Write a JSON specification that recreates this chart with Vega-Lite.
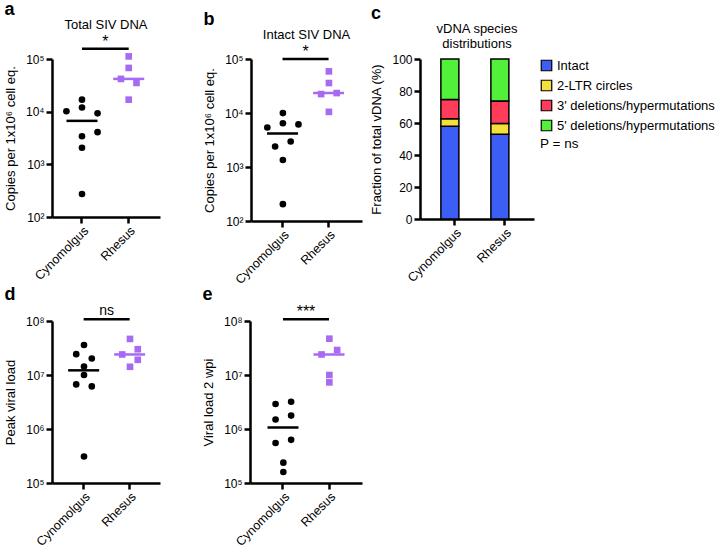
{
  "$schema": "https://vega.github.io/schema/vega-lite/v6.json",
  "padding": {"left": 4, "top": 0, "right": 0, "bottom": 0},
  "background": "white",
  "resolve": {"scale": {"color": "independent", "shape": "independent"}},
  "config": {
    "font": "Liberation Sans",
    "view": {"stroke": null},
    "axis": {"domainColor": "#000", "domainWidth": 2.5, "tickColor": "#000", "tickWidth": 2.5, "tickSize": 6, "labelColor": "#000", "labelFontSize": 12, "titleFontSize": 13, "titleFontWeight": "normal", "titleColor": "#000", "grid": false, "labelPadding": 2, "titlePadding": 8},
    "axisX": {"labelFontSize": 12.5, "labelAngle": -45, "labelPadding": 1},
    "title": {"fontSize": 13, "fontWeight": "normal", "color": "#000", "offset": 2},
    "legend": {"labelFontSize": 13, "labelColor": "#000", "titleFontSize": 13, "titleFontWeight": "normal", "titleColor": "#000"}
  },
  "datasets": {
    "a": [
      {"group": "Cynomolgus", "slot": 0, "value": 16900},
      {"group": "Cynomolgus", "slot": -2, "value": 10200},
      {"group": "Cynomolgus", "slot": 0, "value": 12000},
      {"group": "Cynomolgus", "slot": 2, "value": 9300},
      {"group": "Cynomolgus", "slot": 0, "value": 3420},
      {"group": "Cynomolgus", "slot": 2, "value": 4080},
      {"group": "Cynomolgus", "slot": 0, "value": 2060},
      {"group": "Cynomolgus", "slot": 0, "value": 273},
      {"group": "Rhesus", "slot": 0, "value": 112000},
      {"group": "Rhesus", "slot": 0, "value": 67700},
      {"group": "Rhesus", "slot": -1, "value": 41900},
      {"group": "Rhesus", "slot": 1, "value": 35100},
      {"group": "Rhesus", "slot": 0, "value": 16900}
    ],
    "b": [
      {"group": "Cynomolgus", "slot": 0, "value": 9950},
      {"group": "Cynomolgus", "slot": -2, "value": 5400},
      {"group": "Cynomolgus", "slot": 0, "value": 6460},
      {"group": "Cynomolgus", "slot": 2, "value": 6150},
      {"group": "Cynomolgus", "slot": -1, "value": 2400},
      {"group": "Cynomolgus", "slot": 1, "value": 2960},
      {"group": "Cynomolgus", "slot": 0, "value": 1350},
      {"group": "Cynomolgus", "slot": 0, "value": 205},
      {"group": "Rhesus", "slot": 0, "value": 59000},
      {"group": "Rhesus", "slot": 0, "value": 35900},
      {"group": "Rhesus", "slot": -1, "value": 22400},
      {"group": "Rhesus", "slot": 1, "value": 23400},
      {"group": "Rhesus", "slot": 0, "value": 10500}
    ],
    "d": [
      {"group": "Cynomolgus", "slot": 0, "value": 36000000},
      {"group": "Cynomolgus", "slot": -1, "value": 24300000},
      {"group": "Cynomolgus", "slot": 1, "value": 20200000},
      {"group": "Cynomolgus", "slot": 0, "value": 14400000},
      {"group": "Cynomolgus", "slot": 0, "value": 10000000},
      {"group": "Cynomolgus", "slot": -1, "value": 6700000},
      {"group": "Cynomolgus", "slot": 1, "value": 6150000},
      {"group": "Cynomolgus", "slot": 0, "value": 310000},
      {"group": "Rhesus", "slot": 0, "value": 46600000},
      {"group": "Rhesus", "slot": -1, "value": 24000000},
      {"group": "Rhesus", "slot": 1, "value": 30000000},
      {"group": "Rhesus", "slot": 1, "value": 19100000},
      {"group": "Rhesus", "slot": 0, "value": 14200000}
    ],
    "e": [
      {"group": "Cynomolgus", "slot": -1, "value": 2900000},
      {"group": "Cynomolgus", "slot": 1, "value": 3200000},
      {"group": "Cynomolgus", "slot": -1, "value": 1500000},
      {"group": "Cynomolgus", "slot": 1, "value": 1770000},
      {"group": "Cynomolgus", "slot": -1, "value": 550000},
      {"group": "Cynomolgus", "slot": 1, "value": 630000},
      {"group": "Cynomolgus", "slot": 0, "value": 238000},
      {"group": "Cynomolgus", "slot": 0, "value": 160000},
      {"group": "Rhesus", "slot": 0, "value": 47000000},
      {"group": "Rhesus", "slot": -1, "value": 24000000},
      {"group": "Rhesus", "slot": 1, "value": 29000000},
      {"group": "Rhesus", "slot": 0, "value": 10000000},
      {"group": "Rhesus", "slot": 0, "value": 7300000}
    ],
    "c": [
      {"group": "Cynomolgus", "species": "Intact", "k": 1, "pct": 58.0},
      {"group": "Cynomolgus", "species": "2-LTR circles", "k": 2, "pct": 4.6},
      {"group": "Cynomolgus", "species": "3' deletions/hypermutations", "k": 3, "pct": 12.1},
      {"group": "Cynomolgus", "species": "5' deletions/hypermutations", "k": 4, "pct": 25.3},
      {"group": "Rhesus", "species": "Intact", "k": 1, "pct": 53.0},
      {"group": "Rhesus", "species": "2-LTR circles", "k": 2, "pct": 6.7},
      {"group": "Rhesus", "species": "3' deletions/hypermutations", "k": 3, "pct": 14.1},
      {"group": "Rhesus", "species": "5' deletions/hypermutations", "k": 4, "pct": 26.2}
    ],
    "sig": [
      {"panel": "a", "group": "Cynomolgus", "level": 156700, "label": "*"},
      {"panel": "a", "group": "Rhesus", "level": 156700, "label": "*"},
      {"panel": "b", "group": "Cynomolgus", "level": 100000, "label": "*"},
      {"panel": "b", "group": "Rhesus", "level": 100000, "label": "*"},
      {"panel": "d", "group": "Cynomolgus", "level": 108000000, "label": "ns"},
      {"panel": "d", "group": "Rhesus", "level": 108000000, "label": "ns"},
      {"panel": "e", "group": "Cynomolgus", "level": 108000000, "label": "***"},
      {"panel": "e", "group": "Rhesus", "level": 108000000, "label": "***"}
    ]
  },
  "vconcat": [
    {
      "resolve": {"scale": {"color": "independent", "shape": "independent"}},
      "hconcat": [
        {
          "resolve": {"scale": {"color": "independent", "shape": "independent"}},
          "hconcat": [
            {
              "title": {"text": "a", "anchor": "start", "fontSize": 18, "fontWeight": "bold", "frame": "bounds", "offset": 0},
              "vconcat": [
                {
                  "width": 108, "height": 158,
                  "title": {"text": "Total SIV DNA"},
                  "data": {"name": "a"},
                  "encoding": {
                    "x": {"field": "group", "type": "nominal", "scale": {"domain": ["Cynomolgus", "Rhesus"], "paddingInner": 0, "paddingOuter": 0.156, "align": 0.455}, "axis": {"title": null}},
                    "y": {"field": "value", "type": "quantitative", "scale": {"type": "log", "domain": [100, 100000]}, "axis": {"title": "Copies per 1x10⁶ cell eq.", "values": [100, 1000, 10000, 100000], "labelExpr": "'10' + (datum.value >= 1e8 ? '⁸' : datum.value >= 1e7 ? '⁷' : datum.value >= 1e6 ? '⁶' : datum.value >= 1e5 ? '⁵' : datum.value >= 1e4 ? '⁴' : datum.value >= 1e3 ? '³' : '²')"}},
                    "color": {"field": "group", "type": "nominal", "scale": {"domain": ["Cynomolgus", "Rhesus"], "range": ["#000000", "#a66bf2"]}, "legend": null}
                  },
                  "layer": [
                    {"mark": {"type": "point", "filled": true, "opacity": 1, "size": 44},
                     "encoding": {"xOffset": {"field": "slot", "type": "ordinal", "scale": {"domain": [-3, -2, -1, 0, 1, 2, 3], "paddingInner": 0, "paddingOuter": 0}},
                                  "shape": {"field": "group", "type": "nominal", "scale": {"domain": ["Cynomolgus", "Rhesus"], "range": ["circle", "square"]}, "legend": null}}},
                    {"transform": [{"aggregate": [{"op": "median", "field": "value", "as": "value"}], "groupby": ["group"]}],
                     "mark": {"type": "tick", "thickness": 2.5, "size": 31, "orient": "horizontal", "opacity": 1}},
                    {"data": {"name": "sig"}, "transform": [{"filter": "datum.panel == 'a'"}],
                     "mark": {"type": "line", "strokeWidth": 2.5, "strokeCap": "butt"},
                     "encoding": {"y": {"field": "level", "type": "quantitative"}, "color": {"value": "#000000"}}},
                    {"data": {"name": "sig"}, "transform": [{"filter": "datum.panel == 'a' && datum.group == 'Cynomolgus'"}],
                     "mark": {"type": "text", "fontSize": 16, "dy": -2, "baseline": "alphabetic"},
                     "encoding": {"x": {"field": "group", "type": "nominal", "bandPosition": 1}, "y": {"field": "level", "type": "quantitative"}, "text": {"field": "label"}, "color": {"value": "#000000"}}}
                  ]
                }
              ]
            },
            {
              "title": {"text": "b", "anchor": "start", "fontSize": 18, "fontWeight": "bold", "frame": "bounds", "offset": 0},
              "vconcat": [
                {
                  "width": 111, "height": 162,
                  "title": {"text": "Intact SIV DNA"},
                  "data": {"name": "b"},
                  "encoding": {
                    "x": {"field": "group", "type": "nominal", "scale": {"domain": ["Cynomolgus", "Rhesus"], "paddingInner": 0, "paddingOuter": 0.206, "align": 0.45}, "axis": {"title": null}},
                    "y": {"field": "value", "type": "quantitative", "scale": {"type": "log", "domain": [100, 100000]}, "axis": {"title": "Copies per 1x10⁶ cell eq.", "values": [100, 1000, 10000, 100000], "labelExpr": "'10' + (datum.value >= 1e8 ? '⁸' : datum.value >= 1e7 ? '⁷' : datum.value >= 1e6 ? '⁶' : datum.value >= 1e5 ? '⁵' : datum.value >= 1e4 ? '⁴' : datum.value >= 1e3 ? '³' : '²')"}},
                    "color": {"field": "group", "type": "nominal", "scale": {"domain": ["Cynomolgus", "Rhesus"], "range": ["#000000", "#a66bf2"]}, "legend": null}
                  },
                  "layer": [
                    {"mark": {"type": "point", "filled": true, "opacity": 1, "size": 44},
                     "encoding": {"xOffset": {"field": "slot", "type": "ordinal", "scale": {"domain": [-3, -2, -1, 0, 1, 2, 3], "paddingInner": 0, "paddingOuter": 0}},
                                  "shape": {"field": "group", "type": "nominal", "scale": {"domain": ["Cynomolgus", "Rhesus"], "range": ["circle", "square"]}, "legend": null}}},
                    {"transform": [{"aggregate": [{"op": "median", "field": "value", "as": "value"}], "groupby": ["group"]}],
                     "mark": {"type": "tick", "thickness": 2.5, "size": 31, "orient": "horizontal", "opacity": 1}},
                    {"data": {"name": "sig"}, "transform": [{"filter": "datum.panel == 'b'"}],
                     "mark": {"type": "line", "strokeWidth": 2.5, "strokeCap": "butt"},
                     "encoding": {"y": {"field": "level", "type": "quantitative"}, "color": {"value": "#000000"}}},
                    {"data": {"name": "sig"}, "transform": [{"filter": "datum.panel == 'b' && datum.group == 'Cynomolgus'"}],
                     "mark": {"type": "text", "fontSize": 16, "dy": -2, "baseline": "alphabetic"},
                     "encoding": {"x": {"field": "group", "type": "nominal", "bandPosition": 1}, "y": {"field": "level", "type": "quantitative"}, "text": {"field": "label"}, "color": {"value": "#000000"}}}
                  ]
                }
              ]
            }
          ],
          "spacing": 43
        },
        {
          "title": {"text": "c", "anchor": "start", "fontSize": 18, "fontWeight": "bold", "frame": "bounds", "offset": 0},
          "vconcat": [
            {
              "width": 114, "height": 160,
              "title": {"text": ["vDNA species", "distributions"]},
              "data": {"name": "c"},
              "mark": {"type": "bar", "stroke": "#000000", "strokeWidth": 1.5},
              "encoding": {
                "x": {"field": "group", "type": "nominal", "scale": {"domain": ["Cynomolgus", "Rhesus"], "paddingInner": 0.44, "paddingOuter": 0.36, "align": 0.58}, "axis": {"title": null}},
                "y": {"field": "pct", "type": "quantitative", "stack": "zero", "scale": {"domain": [0, 100]}, "axis": {"title": "Fraction of total vDNA (%)", "values": [0, 20, 40, 60, 80, 100]}},
                "order": {"field": "k", "type": "quantitative", "sort": "ascending"},
                "color": {"field": "species", "type": "nominal",
                          "scale": {"domain": ["Intact", "2-LTR circles", "3' deletions/hypermutations", "5' deletions/hypermutations"], "range": ["#3d5ef5", "#f5df3a", "#ff3d5a", "#52f03a"]},
                          "legend": {"title": "P = ns", "titleOrient": "bottom", "orient": "right", "offset": 6, "symbolType": "square", "symbolSize": 110, "symbolStrokeColor": "#000000", "symbolStrokeWidth": 1.2, "rowPadding": 3, "titlePadding": 4, "labelFontSize": 13, "titleFontSize": 13.5, "labelLimit": 400}}
              }
            }
          ]
        }
      ],
      "spacing": 8
    },
    {
      "resolve": {"scale": {"color": "independent", "shape": "independent"}},
      "hconcat": [
        {
          "title": {"text": "d", "anchor": "start", "fontSize": 18, "fontWeight": "bold", "frame": "bounds", "offset": 0},
          "vconcat": [
            {
              "width": 108, "height": 162,
              "data": {"name": "d"},
              "encoding": {
                "x": {"field": "group", "type": "nominal", "scale": {"domain": ["Cynomolgus", "Rhesus"], "paddingInner": 0, "paddingOuter": 0.174, "align": 0.54}, "axis": {"title": null}},
                "y": {"field": "value", "type": "quantitative", "scale": {"type": "log", "domain": [100000, 100000000]}, "axis": {"title": "Peak viral load", "values": [100000, 1000000, 10000000, 100000000], "labelExpr": "'10' + (datum.value >= 1e8 ? '⁸' : datum.value >= 1e7 ? '⁷' : datum.value >= 1e6 ? '⁶' : datum.value >= 1e5 ? '⁵' : datum.value >= 1e4 ? '⁴' : datum.value >= 1e3 ? '³' : '²')"}},
                "color": {"field": "group", "type": "nominal", "scale": {"domain": ["Cynomolgus", "Rhesus"], "range": ["#000000", "#a66bf2"]}, "legend": null}
              },
              "layer": [
                {"mark": {"type": "point", "filled": true, "opacity": 1, "size": 44},
                 "encoding": {"xOffset": {"field": "slot", "type": "ordinal", "scale": {"domain": [-3, -2, -1, 0, 1, 2, 3], "paddingInner": 0, "paddingOuter": 0}},
                              "shape": {"field": "group", "type": "nominal", "scale": {"domain": ["Cynomolgus", "Rhesus"], "range": ["circle", "square"]}, "legend": null}}},
                {"transform": [{"aggregate": [{"op": "median", "field": "value", "as": "value"}], "groupby": ["group"]}],
                 "mark": {"type": "tick", "thickness": 2.5, "size": 31, "orient": "horizontal", "opacity": 1}},
                {"data": {"name": "sig"}, "transform": [{"filter": "datum.panel == 'd'"}],
                 "mark": {"type": "line", "strokeWidth": 2.5, "strokeCap": "butt"},
                 "encoding": {"y": {"field": "level", "type": "quantitative"}, "color": {"value": "#000000"}}},
                {"data": {"name": "sig"}, "transform": [{"filter": "datum.panel == 'd' && datum.group == 'Cynomolgus'"}],
                 "mark": {"type": "text", "fontSize": 14, "dy": -4, "baseline": "alphabetic"},
                 "encoding": {"x": {"field": "group", "type": "nominal", "bandPosition": 1}, "y": {"field": "level", "type": "quantitative"}, "text": {"field": "label"}, "color": {"value": "#000000"}}}
              ]
            }
          ]
        },
        {
          "title": {"text": "e", "anchor": "start", "fontSize": 18, "fontWeight": "bold", "frame": "bounds", "offset": 0},
          "vconcat": [
            {
              "width": 112, "height": 162,
              "data": {"name": "e"},
              "encoding": {
                "x": {"field": "group", "type": "nominal", "scale": {"domain": ["Cynomolgus", "Rhesus"], "paddingInner": 0, "paddingOuter": 0.217, "align": 0.5}, "axis": {"title": null}},
                "y": {"field": "value", "type": "quantitative", "scale": {"type": "log", "domain": [100000, 100000000]}, "axis": {"title": "Viral load 2 wpi", "values": [100000, 1000000, 10000000, 100000000], "labelExpr": "'10' + (datum.value >= 1e8 ? '⁸' : datum.value >= 1e7 ? '⁷' : datum.value >= 1e6 ? '⁶' : datum.value >= 1e5 ? '⁵' : datum.value >= 1e4 ? '⁴' : datum.value >= 1e3 ? '³' : '²')"}},
                "color": {"field": "group", "type": "nominal", "scale": {"domain": ["Cynomolgus", "Rhesus"], "range": ["#000000", "#a66bf2"]}, "legend": null}
              },
              "layer": [
                {"mark": {"type": "point", "filled": true, "opacity": 1, "size": 44},
                 "encoding": {"xOffset": {"field": "slot", "type": "ordinal", "scale": {"domain": [-3, -2, -1, 0, 1, 2, 3], "paddingInner": 0, "paddingOuter": 0}},
                              "shape": {"field": "group", "type": "nominal", "scale": {"domain": ["Cynomolgus", "Rhesus"], "range": ["circle", "square"]}, "legend": null}}},
                {"transform": [{"aggregate": [{"op": "median", "field": "value", "as": "value"}], "groupby": ["group"]}],
                 "mark": {"type": "tick", "thickness": 2.5, "size": 31, "orient": "horizontal", "opacity": 1}},
                {"data": {"name": "sig"}, "transform": [{"filter": "datum.panel == 'e'"}],
                 "mark": {"type": "line", "strokeWidth": 2.5, "strokeCap": "butt"},
                 "encoding": {"y": {"field": "level", "type": "quantitative"}, "color": {"value": "#000000"}}},
                {"data": {"name": "sig"}, "transform": [{"filter": "datum.panel == 'e' && datum.group == 'Cynomolgus'"}],
                 "mark": {"type": "text", "fontSize": 16, "dy": -2, "baseline": "alphabetic"},
                 "encoding": {"x": {"field": "group", "type": "nominal", "bandPosition": 1}, "y": {"field": "level", "type": "quantitative"}, "text": {"field": "label"}, "color": {"value": "#000000"}}}
              ]
            }
          ]
        }
      ],
      "spacing": 42
    }
  ],
  "spacing": 0
}
